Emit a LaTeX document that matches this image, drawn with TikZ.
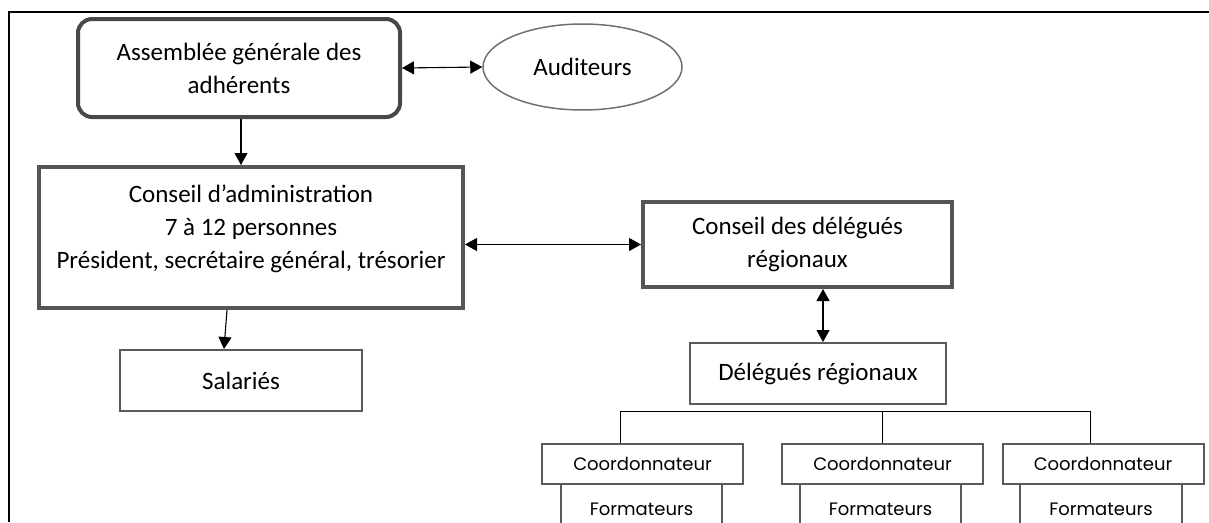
\documentclass[tikz,border=0pt]{standalone}
\usepackage{fontspec}
\setmainfont{Carlito}
\newfontfamily\geofont{Poppins}
\usetikzlibrary{arrows.meta,shapes.geometric}
\definecolor{thickgray}{HTML}{555555}
\definecolor{thingray}{HTML}{5A5A5A}
\definecolor{ellgray}{HTML}{707070}
\begin{document}
\begin{tikzpicture}[x=1pt,y=-1pt,
  tip/.tip={Triangle[length=12pt,width=13pt]},
  arr/.style={-tip, line width=1.1pt, black},
  darr/.style={tip-tip, line width=1.1pt, black},
  bigtext/.style={font=\fontsize{25}{33}\selectfont, align=center},
  heavybox/.style={draw=thickgray, line width=4pt, fill=white},
  lightbox/.style={draw=thingray, line width=2pt, fill=white},
  smalltext/.style={font=\geofont\fontsize{18}{20}\selectfont},
  treeline/.style={line width=1pt, black},
  frameline/.style={line width=2.5pt, black}
]
\useasboundingbox (0,0) rectangle (1209,522);
% frame
\coordinate (ftl) at (9,12);
\coordinate (ftr) at (1209,12);
\coordinate (fbl) at (9,522);
\draw[frameline] (fbl) -- (ftl) -- (ftr);

% top nodes
\node[heavybox, draw=thickgray!85!black, rounded corners=14pt, minimum width=322pt, minimum height=98pt, bigtext]
  (asm) at (239,68) {Assemblée générale des\\adhérents};
\node[ellipse, draw=ellgray, line width=1.5pt, minimum width=199pt, minimum height=86pt, bigtext]
  (aud) at (582.5,67) {Auditeurs};

% conseil d'administration
\node[heavybox, minimum width=424pt, minimum height=141pt] (adm) at (251,237.5) {};
\node[bigtext] (admtxt) at (251,229) {Conseil d’administration\\7 à 12 personnes\\Président, secrétaire général, trésorier};

% conseil des délégués
\node[heavybox, minimum width=309pt, minimum height=85pt, bigtext] (cdr) at (797.5,244.5) {Conseil des délégués\\régionaux};

% salariés
\node[lightbox, minimum width=242pt, minimum height=61pt, bigtext] (sal) at (241,380.5) {Salariés};

% délégués régionaux
\node[lightbox, minimum width=256pt, minimum height=61pt, bigtext] (dr) at (818,373.5) {Délégués régionaux};

% coordonnateurs
\node[lightbox, minimum width=201pt, minimum height=40pt, smalltext] (c1) at (642.5,464) {Coordonnateur};
\node[lightbox, minimum width=201pt, minimum height=40pt, smalltext] (c2) at (882.5,464) {Coordonnateur};
\node[lightbox, minimum width=201pt, minimum height=40pt, smalltext] (c3) at (1103,464) {Coordonnateur};

% formateurs
\node[smalltext] (f1) at (641.5,509) {Formateurs};
\node[smalltext] (f2) at (880.5,509) {Formateurs};
\node[smalltext] (f3) at (1101,509) {Formateurs};
\coordinate (f1l) at (561,530); \coordinate (f1r) at (722,530);
\coordinate (f2l) at (800,530); \coordinate (f2r) at (961,530);
\coordinate (f3l) at (1020,530); \coordinate (f3r) at (1182,530);
\draw[draw=thingray, line width=2pt] (f1l) -- (f1l |- c1.south) (f1r) -- (f1r |- c1.south);
\draw[draw=thingray, line width=2pt] (f2l) -- (f2l |- c2.south) (f2r) -- (f2r |- c2.south);
\draw[draw=thingray, line width=2pt] (f3l) -- (f3l |- c3.south) (f3r) -- (f3r |- c3.south);

% connectors
\draw[darr] (asm.east) -- (aud.west);
\draw[arr] ([xshift=2pt]asm.south) -- ([xshift=2pt]asm.south |- adm.north);
\draw[arr] ([xshift=-24pt]adm.south) -- ([xshift=-17pt]sal.north);
\draw[darr] (adm.east |- cdr.west) -- (cdr.west);
\draw[darr] ([xshift=25.5pt]cdr.south) -- ([xshift=25.5pt]cdr.south |- dr.north);

% tree
\coordinate (hl) at (620,411);
\coordinate (hr) at (1090,411);
\draw[treeline] (hl |- c1.north) -- (hl) -- (hr) -- (hr |- c3.north);
\draw[treeline] (c2.north |- hl) -- (c2.north);
\end{tikzpicture}
\end{document}
